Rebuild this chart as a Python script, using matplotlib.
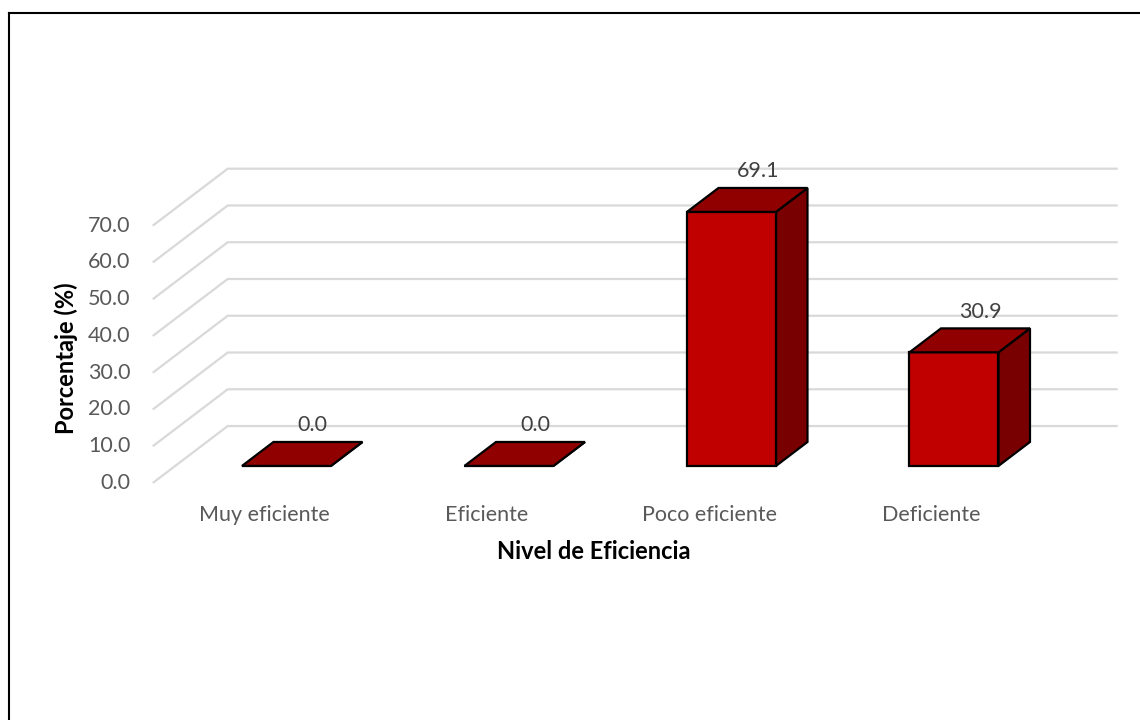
import matplotlib
matplotlib.use('Agg')
import matplotlib.pyplot as plt
from matplotlib.patches import Polygon
from matplotlib.lines import Line2D

# data
categories = ['Muy eficiente', 'Eficiente', 'Poco eficiente', 'Deficiente']
values = [0.0, 0.0, 69.1, 30.9]
yticks = [0, 10, 20, 30, 40, 50, 60, 70]

plt.rcParams['font.family'] = ['Lato', 'DejaVu Sans']

# pseudo 3d settings (depth vector in data units, bar depth range)
DX, DY = 0.337, 15.5
D0, D1 = 0.30, 0.72
BW = 0.40
FRONT = '#C00000'
TOP = '#900000'
SIDE = '#780000'
GRID = '#D9D9D9'


def p(x, v, d):
    return (x + d * DX, v + d * DY)


fig = plt.figure(figsize=(11.4, 7.2), dpi=100)
ax = fig.add_axes([0, 0, 1, 1])
ax.set_xlim(-264 / 222.5, (1140 - 264) / 222.5)
ax.set_ylim(-237 / 3.676, (720 - 237) / 3.676)
ax.axis('off')

# walls gridlines
xl, xr = -0.5, 3.5
for v in yticks:
    a = p(xl, v, 0)
    b = p(xl, v, 1)
    c = p(xr, v, 1)
    ax.plot([a[0], b[0], c[0]], [a[1], b[1], c[1]], color=GRID, lw=1.6,
            zorder=1, solid_capstyle='butt')
    ax.text(a[0] - 0.1, a[1], '%.1f' % v, ha='right', va='center',
            fontsize=15.5, color='#595959')

# bars
for i, v in enumerate(values):
    x0, x1 = i - BW / 2, i + BW / 2
    front = [p(x0, 0, D0), p(x1, 0, D0), p(x1, v, D0), p(x0, v, D0)]
    side = [p(x1, 0, D0), p(x1, 0, D1), p(x1, v, D1), p(x1, v, D0)]
    top = [p(x0, v, D0), p(x1, v, D0), p(x1, v, D1), p(x0, v, D1)]
    for pts, col in [(side, SIDE), (front, FRONT), (top, TOP)]:
        ax.add_patch(Polygon(pts, closed=True, facecolor=col,
                             edgecolor='black', lw=1.6, zorder=3,
                             joinstyle='miter'))
    lx, ly = p(i, v, 0.65)
    ly = p(i, v, D1)[1] + 4.5
    ax.text(lx, ly, '%.1f' % v, ha='center', va='center', fontsize=15.5,
            color='#404040', zorder=4)

# category labels
for i, c in enumerate(categories):
    ax.text(i, -8.6, c, ha='center', va='center', fontsize=15.5,
            color='#595959')

ax.text(1.48, -18.6, 'Nivel de Eficiencia', ha='center', va='center',
        fontsize=17, fontweight='bold', color='black')
ax.text(-0.89, 34, 'Porcentaje (%)', ha='center', va='center',
        rotation=90, fontsize=17, fontweight='bold', color='black')

# frame
fig.add_artist(Line2D([9 / 1140, 1], [1 - 13 / 720, 1 - 13 / 720],
                      color='black', lw=1.5))
fig.add_artist(Line2D([9 / 1140, 9 / 1140], [0, 1 - 13 / 720],
                      color='black', lw=1.5))

fig.savefig('out.png', dpi=100, facecolor='white')
